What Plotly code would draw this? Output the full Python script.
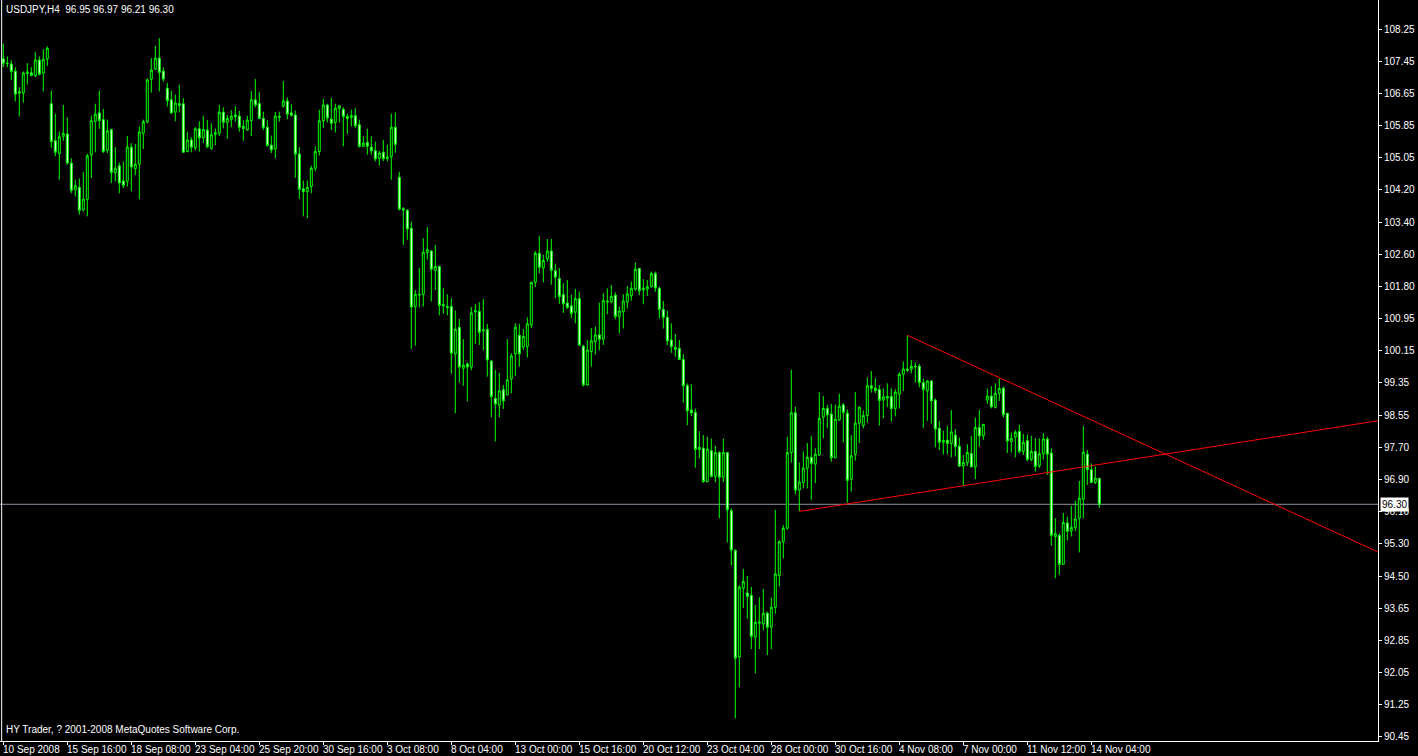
import plotly.graph_objects as go

# ---------------- data (USDJPY, H4) ----------------
opens = [107.50,107.39,107.37,107.19,106.67,106.64,107.13,107.15,107.08,107.47,107.14,107.50,106.37,105.44,105.12,105.55,105.61,104.88,104.21,104.27,
103.70,103.97,105.08,105.93,106.14,105.97,105.20,105.72,104.64,104.81,104.43,104.42,105.28,104.74,104.85,105.63,105.91,106.99,107.24,107.52,
107.19,106.76,106.47,106.16,106.37,106.37,105.17,105.46,105.26,105.74,105.51,105.71,105.25,105.60,105.63,106.16,105.90,105.98,106.05,106.06,
105.80,105.71,105.95,106.47,106.38,106.00,105.78,105.33,105.23,106.05,106.31,106.44,106.14,106.09,105.11,104.23,104.16,104.29,104.75,105.17,
105.94,106.34,105.98,105.90,106.25,106.23,106.05,106.03,106.07,105.84,105.30,105.40,105.28,105.19,105.00,105.15,104.99,105.04,105.78,104.52,
103.73,103.69,103.24,101.27,101.56,101.58,102.63,102.67,102.18,102.28,101.32,101.27,101.27,100.08,100.75,99.72,99.83,99.75,101.14,101.15,
100.66,100.70,99.90,98.96,98.79,99.18,99.05,99.45,100.08,100.55,100.25,100.27,100.81,101.88,102.61,102.24,102.47,102.67,102.17,101.98,
101.57,101.36,101.29,101.13,101.47,100.28,99.30,100.14,100.39,100.56,100.45,101.41,101.39,101.56,101.02,101.14,101.39,101.54,101.71,102.23,
101.69,101.71,101.77,102.10,101.73,101.20,101.00,100.43,100.24,100.22,99.94,99.28,98.67,98.61,97.68,97.71,96.87,97.65,97.00,97.60,
96.98,97.60,96.14,95.14,92.46,94.19,94.07,94.01,92.96,93.31,93.29,93.56,93.21,93.71,94.51,95.36,95.70,97.60,98.60,96.66,
96.85,97.21,97.48,97.31,97.54,98.49,98.71,98.57,97.47,98.42,98.80,98.59,96.93,97.56,98.34,98.28,98.53,99.28,99.22,99.19,
98.92,99.01,99.01,98.71,99.07,99.57,99.70,99.70,99.77,99.77,99.36,99.15,99.40,98.92,98.21,97.86,97.91,97.83,98.04,97.76,
97.26,97.35,97.58,97.24,98.23,98.02,98.92,99.02,98.74,99.09,99.22,98.59,97.88,97.99,98.13,97.63,97.90,97.43,97.63,97.27,
97.57,97.94,97.59,95.49,95.52,94.79,95.83,95.63,95.72,95.95,96.43,97.56,97.17,96.85,96.95]

highs = [107.88,107.56,107.46,107.29,106.79,107.18,107.39,107.29,107.67,107.56,107.74,107.81,106.70,106.12,105.67,106.34,106.03,105.00,104.46,104.49,
104.65,105.11,106.07,106.37,106.70,106.24,105.97,105.74,105.28,104.89,104.92,105.56,105.38,105.36,105.80,105.97,107.01,107.52,107.83,108.02,
107.29,106.89,106.70,106.60,106.85,106.51,105.67,105.53,105.78,105.93,106.07,105.96,105.88,105.75,106.34,106.28,106.09,106.21,106.31,106.19,
105.96,106.07,106.69,106.99,106.66,106.17,105.96,105.57,106.16,106.17,106.94,106.53,106.36,106.20,105.28,104.44,104.44,104.81,105.30,106.22,
106.49,106.37,106.52,106.37,106.32,106.28,106.12,106.22,106.26,105.97,105.55,105.74,105.55,105.42,105.19,105.46,105.34,106.12,106.15,104.66,
103.77,103.72,103.41,101.69,102.24,102.99,103.27,102.68,102.82,102.30,101.74,101.58,101.48,101.17,100.96,100.45,99.87,101.26,101.33,101.38,
101.46,100.83,99.93,99.68,99.60,99.30,100.45,100.10,100.85,100.84,100.71,101.00,101.90,102.67,103.05,102.57,102.97,102.97,102.35,102.24,
101.86,101.94,101.57,101.72,101.65,100.31,100.43,100.73,100.77,101.37,101.61,101.73,101.81,101.63,101.27,101.58,101.79,101.90,102.38,102.23,
101.96,101.94,102.15,102.15,101.77,101.41,101.17,100.85,100.58,100.43,100.08,99.34,99.32,98.71,98.14,98.04,98.00,97.95,97.77,97.63,
97.95,97.60,96.20,95.17,94.26,94.67,94.50,94.22,93.77,93.96,94.17,93.60,93.96,96.16,95.39,95.78,98.00,99.68,98.75,97.35,
97.63,97.84,98.02,97.71,99.12,99.02,98.80,98.82,98.81,99.08,98.84,98.69,98.04,99.12,98.76,98.66,99.49,99.65,99.47,99.30,
99.22,99.34,99.22,99.19,99.62,99.89,100.55,99.93,99.87,99.83,99.46,99.42,99.42,98.96,98.40,98.15,98.27,98.67,98.19,97.98,
97.54,97.81,98.02,98.48,98.67,98.32,99.21,99.27,99.34,99.46,99.26,98.59,98.11,98.17,98.30,98.07,98.05,98.02,97.96,97.96,
98.09,98.00,97.71,95.95,95.57,96.08,95.99,96.26,96.39,96.89,98.27,97.67,97.33,97.25,96.97]

lows = [107.29,107.29,106.97,106.43,106.05,106.40,106.85,107.06,107.04,107.08,106.68,107.32,105.26,105.05,104.46,105.44,104.84,104.12,104.04,103.58,
103.66,103.54,104.50,105.15,105.74,105.13,105.13,104.38,104.42,104.12,104.25,104.29,104.17,104.57,103.97,105.23,105.88,106.65,107.22,106.68,
106.93,106.30,106.12,105.93,106.15,105.15,105.15,105.15,105.20,105.17,105.38,105.25,105.21,105.33,105.56,105.75,105.49,105.78,105.92,105.67,
105.44,105.69,105.56,106.28,106.00,105.71,105.29,105.13,105.00,105.92,106.28,105.98,106.05,104.51,103.98,103.54,103.49,104.12,104.67,105.07,
105.76,105.90,105.71,105.65,105.90,105.30,105.61,105.80,105.76,105.27,105.28,105.09,105.09,104.92,104.82,104.93,104.92,104.46,105.14,103.69,
102.82,102.95,100.21,100.29,101.25,101.27,102.45,101.40,101.68,101.05,101.09,101.05,99.58,98.59,99.36,99.28,98.89,99.67,100.33,100.31,
100.17,99.51,98.49,97.88,98.49,98.70,99.05,99.09,99.53,99.76,100.18,99.99,100.73,101.76,102.11,101.88,102.40,101.82,101.48,101.34,
101.11,101.21,100.98,100.85,100.28,99.26,99.28,99.76,100.06,100.17,100.31,101.08,101.35,100.95,100.60,100.72,101.22,101.42,101.67,101.56,
101.33,101.54,101.75,101.64,100.97,100.72,100.30,100.11,100.01,99.93,98.85,98.29,98.52,97.22,97.45,96.84,96.85,96.98,96.85,95.95,
96.85,95.34,94.76,90.92,91.70,93.69,93.42,92.66,92.05,92.66,93.13,92.51,92.66,93.55,94.23,94.94,95.66,97.35,96.55,96.12,
96.70,96.70,96.41,96.83,97.52,97.96,98.21,97.37,97.46,98.40,97.85,96.34,96.62,97.40,97.84,98.21,98.35,99.11,99.09,98.28,
98.46,98.74,98.38,98.51,98.71,99.15,99.63,99.59,99.36,99.24,98.22,98.40,98.33,97.73,97.66,97.55,97.56,97.48,97.50,97.24,
96.76,97.26,97.24,96.93,97.75,97.92,98.82,98.71,98.71,98.90,98.48,97.59,97.60,97.48,97.58,97.54,97.38,97.38,97.12,97.21,
97.42,97.04,95.26,94.44,94.53,94.78,95.39,95.49,95.62,95.09,95.95,96.79,96.83,96.81,96.21]

closes = [107.39,107.38,107.18,106.61,106.64,107.14,107.17,107.08,107.47,107.11,107.49,107.77,105.42,105.15,105.54,105.62,104.88,104.19,104.31,103.69,
103.97,105.06,105.94,106.11,105.95,105.17,105.69,104.64,104.75,104.38,104.32,105.28,104.78,104.85,105.66,105.92,106.97,107.22,107.52,107.16,
106.99,106.45,106.14,106.39,106.33,105.15,105.46,105.28,105.74,105.51,105.72,105.29,105.59,105.64,106.16,105.90,106.00,106.06,106.09,105.78,
105.75,105.96,106.47,106.34,106.00,105.77,105.32,105.21,106.06,106.03,106.44,106.11,106.08,105.10,104.22,104.16,104.27,104.75,105.17,105.94,
106.34,106.01,105.88,106.26,106.32,106.05,106.00,106.07,105.82,105.30,105.38,105.30,105.19,104.98,105.13,104.99,105.03,105.78,105.35,103.72,
103.70,103.22,101.26,101.58,101.58,102.64,102.70,102.21,102.28,101.30,101.29,101.25,100.10,100.70,99.75,99.80,99.75,101.11,101.17,100.62,
100.69,99.93,99.01,98.82,99.15,98.90,99.43,100.03,100.75,100.08,100.52,100.84,101.88,102.61,102.26,102.43,102.67,102.18,102.01,101.52,
101.34,101.25,101.10,101.47,100.30,99.30,100.18,100.41,100.56,100.45,101.42,101.39,101.53,101.02,101.16,101.41,101.59,101.73,102.21,101.67,
101.73,101.77,102.10,101.74,101.20,101.00,100.41,100.26,100.20,99.94,99.28,98.65,98.60,97.68,97.73,96.87,97.69,97.00,97.60,96.98,
97.60,96.16,95.15,92.43,94.22,94.36,93.98,92.98,93.33,93.34,93.56,93.21,93.71,94.55,95.36,95.70,97.60,98.60,96.66,96.86,
97.21,97.48,97.33,97.56,98.46,98.71,98.55,97.47,98.44,98.77,98.61,96.90,97.52,98.34,98.74,98.53,99.28,99.22,99.16,98.91,
99.00,98.97,98.71,99.12,99.57,99.70,99.67,99.77,99.76,99.36,99.19,99.40,98.90,98.19,97.86,97.91,97.83,98.12,97.75,97.26,
97.35,97.60,97.24,98.23,98.02,98.31,99.02,98.75,99.09,99.21,98.55,97.89,97.96,98.11,97.63,97.86,97.43,97.63,97.25,97.57,
97.94,97.56,95.52,95.56,94.79,95.84,95.62,95.72,95.93,96.45,97.61,97.17,96.85,96.96,96.30]

# bottom time-axis labels (one every 16 bars)
time_labels = ["10 Sep 2008", "15 Sep 16:00", "18 Sep 08:00", "23 Sep 04:00", "25 Sep 20:00",
               "30 Sep 16:00", "3 Oct 08:00", "8 Oct 04:00", "13 Oct 00:00", "15 Oct 16:00",
               "20 Oct 12:00", "23 Oct 04:00", "28 Oct 00:00", "30 Oct 16:00", "4 Nov 08:00",
               "7 Nov 00:00", "11 Nov 12:00", "14 Nov 04:00"]
label_step = 16

# right price-axis labels (top to bottom)
price_labels = ["108.25", "107.45", "106.65", "105.85", "105.05", "104.20", "103.40", "102.60",
                "101.80", "100.95", "100.15", "99.35", "98.55", "97.70", "96.90", "96.10",
                "95.30", "94.50", "93.65", "92.85", "92.05", "91.25", "90.45"]

# trend lines: (bar index, price) anchor pairs
trend_down = [(226, 100.55), (343.7, 95.10)]
trend_up = [(199, 96.12), (343.7, 98.40)]

current_price = 96.30
symbol_text = "USDJPY,H4  96.95 96.97 96.21 96.30"
footer_text = "HY Trader, ? 2001-2008 MetaQuotes Software Corp."

# ---------------- figure ----------------
n = len(opens)
bars = list(range(n))
o = opens
h = [max(a, b, c) for a, b, c in zip(highs, opens, closes)]
l = [min(a, b, c) for a, b, c in zip(lows, opens, closes)]
c = closes

W, H = 1418, 756
ML, MR, MT, MB = 0, 40, 0, 15
plot_w = W - ML - MR
plot_h = H - MT - MB
px_per_bar = 4.0
first_bar_px = 3.3
x0 = -first_bar_px / px_per_bar
x1 = x0 + plot_w / px_per_bar

top_p = float(price_labels[0])
bot_p = float(price_labels[-1])
step = (top_p - bot_p) / (len(price_labels) - 1)
tickvals = [top_p - k * step for k in range(len(price_labels))]
ppp = step / 32.18  # price per pixel
y_top = top_p + 29 * ppp
y_bot = y_top - plot_h * ppp

FONT = "Liberation Sans, Arial, sans-serif"
LIME = "#00ff00"

fig = go.Figure()
fig.add_trace(go.Candlestick(
    x=bars, open=o, high=h, low=l, close=c,
    increasing=dict(line=dict(color=LIME, width=1), fillcolor="black"),
    decreasing=dict(line=dict(color=LIME, width=1), fillcolor="white"),
    whiskerwidth=0, showlegend=False, hoverinfo="skip",
))

for line in (trend_down, trend_up):
    fig.add_trace(go.Scatter(
        x=[p[0] for p in line], y=[p[1] for p in line], mode="lines",
        line=dict(color="#ff0000", width=1), showlegend=False, hoverinfo="skip",
    ))

shapes = [
    dict(type="line", xref="paper", yref="y", x0=0, x1=1, y0=current_price, y1=current_price,
         line=dict(color="#8a96a3", width=1), layer="below"),
    dict(type="line", xref="paper", yref="paper", x0=0.0012, x1=0.0012, y0=0, y1=1,
         line=dict(color="white", width=1)),
]

annotations = [
    dict(text=symbol_text, xref="paper", yref="paper", x=0.003, y=1, xanchor="left", yanchor="top",
         yshift=-2, showarrow=False, font=dict(family=FONT, size=10, color="white")),
    dict(text=footer_text, xref="paper", yref="paper", x=0.003, y=0, xanchor="left", yanchor="bottom",
         yshift=4, showarrow=False, font=dict(family=FONT, size=10, color="white")),
    dict(text=f"{current_price:.2f}", xref="paper", yref="y", x=1, y=current_price, xanchor="left",
         yanchor="middle", xshift=2, showarrow=False, bgcolor="white", borderpad=1,
         font=dict(family=FONT, size=10, color="black")),
]
for k, lab in enumerate(time_labels):
    annotations.append(dict(text=lab, xref="x", yref="paper", x=k * label_step, y=0,
                            xanchor="left", yanchor="top", xshift=-2, yshift=-1, showarrow=False,
                            font=dict(family=FONT, size=10, color="white")))

fig.update_layout(
    width=W, height=H,
    margin=dict(l=ML, r=MR, t=MT, b=MB),
    paper_bgcolor="black", plot_bgcolor="black",
    showlegend=False, hovermode=False,
    shapes=shapes, annotations=annotations,
    xaxis=dict(range=[x0, x1], rangeslider=dict(visible=False), showgrid=False, zeroline=False,
               showline=True, linecolor="white", linewidth=1,
               tickvals=[k * label_step for k in range(len(time_labels))], ticktext=[""] * len(time_labels),
               ticks="outside", ticklen=3, tickcolor="white"),
    yaxis=dict(range=[y_bot, y_top], side="right", showgrid=False, zeroline=False,
               showline=True, linecolor="white", linewidth=1,
               tickvals=tickvals, ticktext=price_labels, ticks="outside", ticklen=3,
               tickcolor="white", tickfont=dict(family=FONT, size=10, color="white")),
)

fig.write_html("out.html", config={"displayModeBar": False},
               post_script="document.body.style.margin='0';document.body.style.background='black';")
